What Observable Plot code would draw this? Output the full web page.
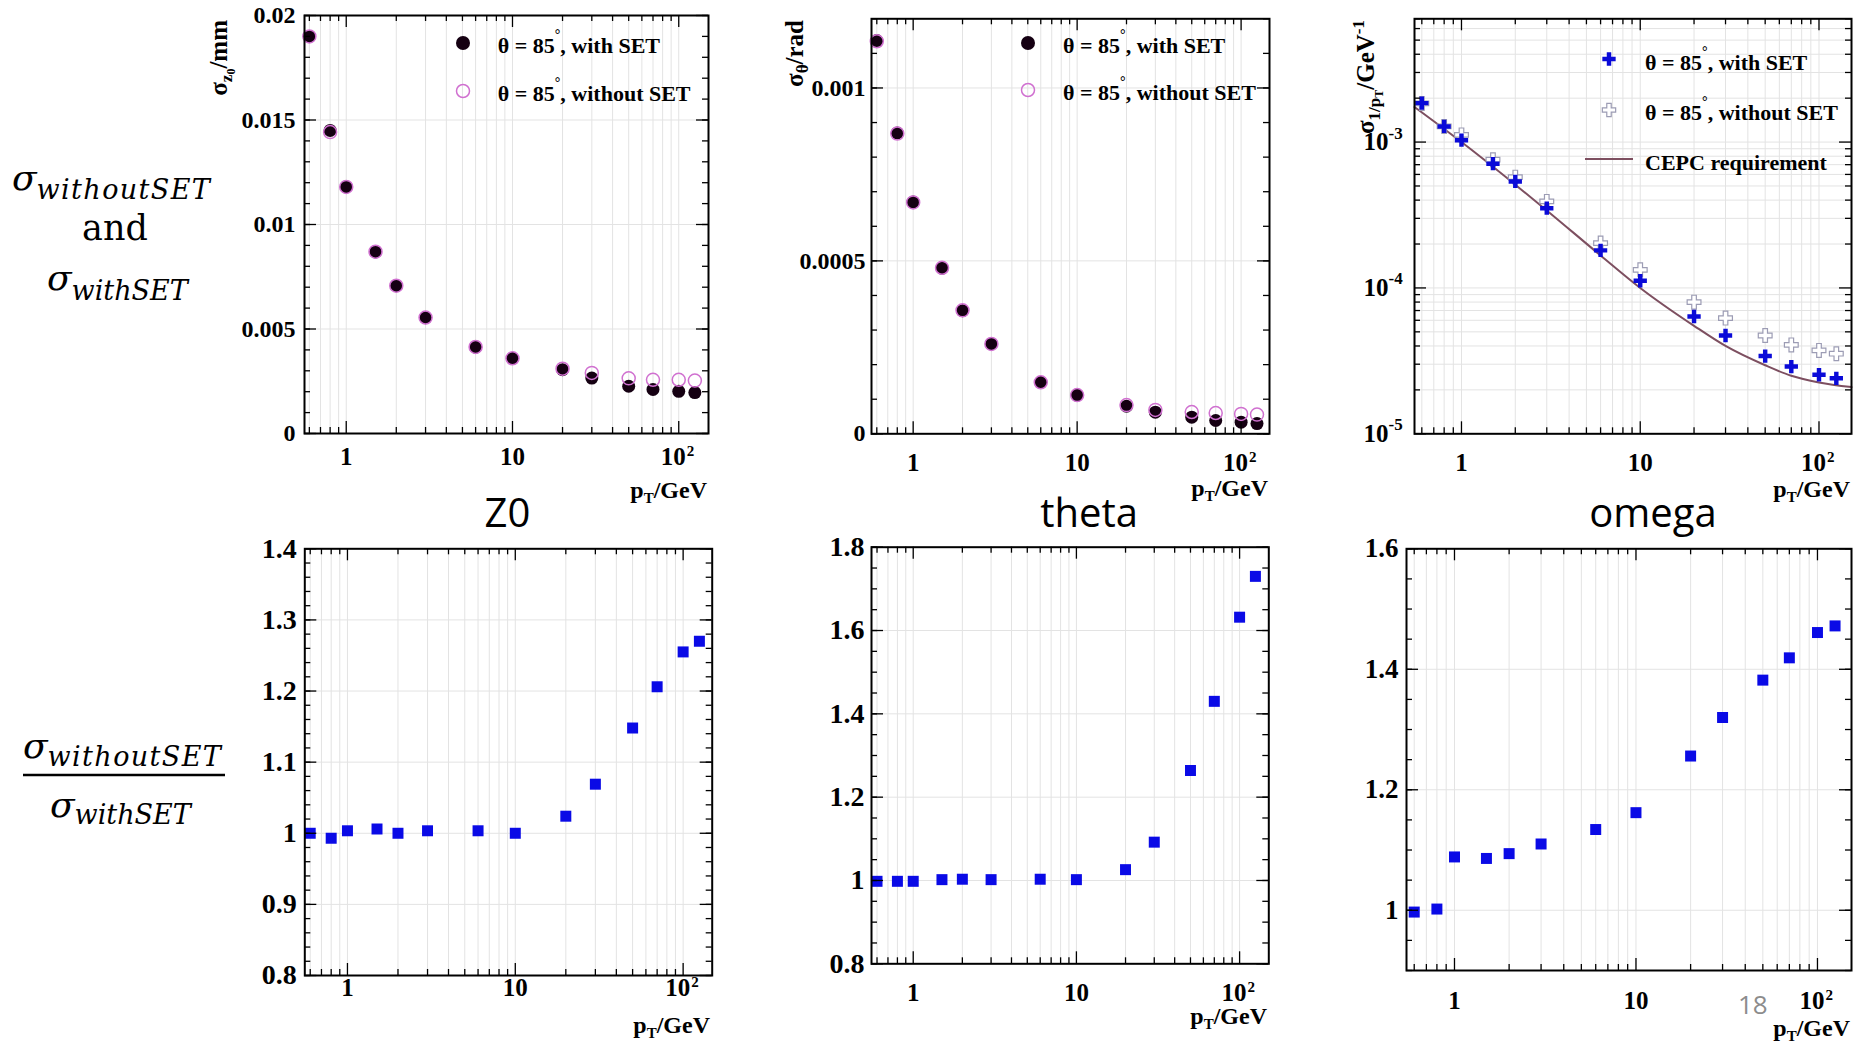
<!DOCTYPE html>
<html>
<head>
<meta charset="utf-8">
<script src="https://cdn.jsdelivr.net/npm/d3@7"></script>
<script src="https://cdn.jsdelivr.net/npm/@observablehq/plot@0.6"></script>
<style>
html,body{margin:0;padding:0;background:#fff;}
#root{position:relative;width:1868px;height:1046px;overflow:hidden;background:#fff;}
.panel{position:absolute;}
</style>
</head>
<body>
<div id="root"></div>
<script>
// ---------- data ----------
const pT = [0.6, 0.8, 1, 1.5, 2, 3, 6, 10, 20, 30, 50, 70, 100, 125];

const z0WithSET    = [0.0190, 0.0145, 0.0118, 0.00869, 0.00707, 0.00554, 0.00413, 0.00360, 0.00305, 0.00265, 0.00226, 0.00211, 0.00202, 0.00196];
const z0WithoutSET = [0.0190, 0.01442, 0.0118, 0.00870, 0.00707, 0.00555, 0.00414, 0.00360, 0.00310, 0.00290, 0.00264, 0.00257, 0.00257, 0.00253];

const thetaWithSET    = [0.001137, 0.00087, 0.00067, 0.000479, 0.000356, 0.00026, 0.000149, 0.000112, 0.0000797, 0.0000624, 0.000048, 0.0000384, 0.0000336, 0.0000295];
const thetaWithoutSET = [0.001135, 0.000868, 0.000669, 0.00048, 0.000357, 0.00026, 0.000149, 0.000112, 0.0000830, 0.0000690, 0.0000630, 0.0000600, 0.0000575, 0.0000555];

const omegaWithSET    = [1.85e-3, 1.28e-3, 1.03e-3, 7.11e-4, 5.37e-4, 3.52e-4, 1.81e-4, 1.12e-4, 6.37e-5, 4.72e-5, 3.41e-5, 2.89e-5, 2.54e-5, 2.40e-5];
const omegaWithoutSET = [1.84e-3, 1.28e-3, 1.12e-3, 7.57e-4, 5.75e-4, 3.92e-4, 2.03e-4, 1.33e-4, 7.99e-5, 6.21e-5, 4.72e-5, 4.07e-5, 3.73e-5, 3.54e-5];

const cepcPT    = [0.546, 1, 2, 3, 6, 10, 20, 30, 50, 70, 100, 152];
const cepcSigma = [1.74e-3, 1.0e-3, 5.1e-4, 3.4e-4, 1.67e-4, 1.0e-4, 5.5e-5, 4.0e-5, 2.95e-5, 2.5e-5, 2.25e-5, 2.09e-5];

const z0Ratio    = [1.000, 0.993, 1.0035, 1.006, 1.000, 1.0035, 1.0035, 1.000, 1.024, 1.069, 1.148, 1.206, 1.255, 1.270];
const thetaRatio = [0.998, 0.998, 0.998, 1.002, 1.003, 1.002, 1.003, 1.002, 1.026, 1.092, 1.264, 1.430, 1.632, 1.730];
const omegaRatio = [0.997, 1.002, 1.0885, 1.086, 1.094, 1.110, 1.134, 1.162, 1.256, 1.320, 1.382, 1.419, 1.461, 1.472];

// ---------- tick labels ----------
const xTickValues = [1, 10, 100];
const xTickText   = ["1", "10", "10"];
const xTickExp    = ["", "", "2"];
const xMinorTicks = [0.6, 0.7, 0.8, 0.9, 2, 3, 4, 5, 6, 7, 8, 9, 20, 30, 40, 50, 60, 70, 80, 90];

const z0YTicks    = [0, 0.005, 0.01, 0.015, 0.02];
const thetaYTicks = [0, 0.0005, 0.001];
const omegaYTicks = [1e-5, 1e-4, 1e-3];
const omegaYExp   = ["-5", "-4", "-3"];
const z0RatioYTicks    = [0.8, 0.9, 1, 1.1, 1.2, 1.3, 1.4];
const thetaRatioYTicks = [0.8, 1, 1.2, 1.4, 1.6, 1.8];
const omegaRatioYTicks = [1, 1.2, 1.4, 1.6];

// ---------- helpers ----------
const SERIF = "'Liberation Serif','Times New Roman',serif";
const root = document.getElementById("root");
function seq(lo, hi, step) { const out = []; const n = Math.round((hi - lo) / step); for (let i = 0; i <= n; i++) out.push(+(lo + i * step).toFixed(9)); return out; }
const logMinor = [1e-5, 1e-4, 1e-3].flatMap(d => [2,3,4,5,6,7,8,9].map(k => +(k * d).toPrecision(3))).filter(v => v <= 7e-3);

function buildPanel(c) {
  const iw = c.fx1 - c.fx0, ih = c.fy1 - c.fy0;
  const MAJ = 12, MIN = 6;
  const tk = {stroke: "#000", strokeWidth: 1.3};
  const grid = {stroke: "#e3e3e3", strokeWidth: 1};
  const txt = {fontFamily: SERIF, fontWeight: "bold", fill: "#000"};
  const xt = xTickValues.map((v, i) => ({v, t: xTickText[i], e: xTickExp[i]}));
  const marks = [
    Plot.ruleX([...xTickValues, ...xMinorTicks], {x: d => d, ...grid}),
    Plot.ruleY(c.yGrid, {y: d => d, ...grid}),
    ...c.marks,
    Plot.ruleX(xTickValues, {x: d => d, insetTop: ih - MAJ, ...tk}),
    Plot.ruleX(xTickValues, {x: d => d, insetBottom: ih - MAJ, ...tk}),
    Plot.ruleX(xMinorTicks, {x: d => d, insetTop: ih - MIN, ...tk}),
    Plot.ruleX(xMinorTicks, {x: d => d, insetBottom: ih - MIN, ...tk}),
    Plot.ruleY(c.yMajor, {y: d => d, insetRight: iw - MAJ, ...tk}),
    Plot.ruleY(c.yMajor, {y: d => d, insetLeft: iw - MAJ, ...tk}),
    Plot.ruleY(c.yMinor, {y: d => d, insetRight: iw - MIN, ...tk}),
    Plot.ruleY(c.yMinor, {y: d => d, insetLeft: iw - MIN, ...tk}),
    Plot.frame({stroke: "#000", strokeWidth: 2}),
    Plot.text(xt.filter(d => !d.e), {x: d => d.v, text: d => d.t, frameAnchor: "bottom", lineAnchor: "bottom", dy: c.xLabDy, fontSize: c.xFont, ...txt}),
    Plot.text(xt.filter(d => d.e), {x: d => d.v, text: d => d.t, frameAnchor: "bottom", lineAnchor: "bottom", textAnchor: "end", dx: 7, dy: c.xLabDy, fontSize: c.xFont, ...txt}),
    Plot.text(xt.filter(d => d.e), {x: d => d.v, text: d => d.e, frameAnchor: "bottom", lineAnchor: "bottom", textAnchor: "start", dx: 8, dy: c.xLabDy - 9, fontSize: 15, ...txt})
  ];
  if (c.yExp) {
    const yt = c.yLabels.map((v, i) => ({v, e: c.yExp[i]}));
    marks.push(Plot.text(yt, {y: d => d.v, text: () => "10", frameAnchor: "left", textAnchor: "end", lineAnchor: "middle", dx: c.yLabDx, fontSize: c.yFont, ...txt}));
    marks.push(Plot.text(yt, {y: d => d.v, text: d => d.e, frameAnchor: "left", textAnchor: "start", lineAnchor: "middle", dx: c.yLabDx, dy: -9, fontSize: 17, ...txt}));
  } else {
    marks.push(Plot.text(c.yLabels, {y: d => d, text: d => String(d), frameAnchor: "left", textAnchor: "end", lineAnchor: "middle", dx: c.yLabDx, fontSize: c.yFont, ...txt}));
  }
  const svg = Plot.plot({
    width: c.w, height: c.h,
    marginLeft: c.fx0 - c.left, marginRight: c.left + c.w - c.fx1,
    marginTop: c.fy0 - c.top, marginBottom: c.top + c.h - c.fy1,
    x: {type: "log", domain: c.xDomain, axis: null},
    y: {type: c.yType || "linear", domain: c.yDomain, axis: null},
    style: {background: "transparent", overflow: "visible"},
    marks
  });
  const div = document.createElement("div");
  div.className = "panel";
  Object.assign(div.style, {left: c.left + "px", top: c.top + "px", width: c.w + "px", height: c.h + "px"});
  div.appendChild(svg);
  root.appendChild(div);
}

const dotBlack = {r: 6.5, fill: "#150012"};
const dotPink  = {r: 6.5, fill: "none", stroke: "#d070d0", strokeWidth: 1.5};
const sq = {symbol: "square", r: 6.2, fill: "#0a0ae6"};

// ---------- top row ----------
buildPanel({left: 190, top: 0, w: 540, h: 520, fx0: 304, fx1: 708, fy0: 15, fy1: 433,
  xDomain: [0.561, 151], yDomain: [0, 0.02],
  yMajor: z0YTicks, yMinor: seq(0, 0.02, 0.001), yGrid: z0YTicks, yLabels: z0YTicks,
  xLabDy: 31, xFont: 25, yLabDx: -9, yFont: 24,
  marks: [
    Plot.dot(pT, {x: pT, y: z0WithSET, ...dotBlack}),
    Plot.dot(pT, {x: pT, y: z0WithoutSET, ...dotPink})
  ]});

buildPanel({left: 750, top: 0, w: 540, h: 520, fx0: 871, fx1: 1269, fy0: 18.3, fy1: 433.3,
  xDomain: [0.557, 149], yDomain: [0, 0.0012],
  yMajor: thetaYTicks, yMinor: seq(0, 0.0012, 0.0001), yGrid: thetaYTicks, yLabels: thetaYTicks,
  xLabDy: 37, xFont: 25, yLabDx: -6, yFont: 24,
  marks: [
    Plot.dot(pT, {x: pT, y: thetaWithSET, ...dotBlack}),
    Plot.dot(pT, {x: pT, y: thetaWithoutSET, ...dotPink})
  ]});

buildPanel({left: 1300, top: 0, w: 568, h: 520, fx0: 1414, fx1: 1851, fy0: 18.3, fy1: 433.3,
  xDomain: [0.546, 152], yDomain: [1e-5, 7e-3], yType: "log",
  yMajor: omegaYTicks, yMinor: logMinor, yGrid: [...omegaYTicks, ...logMinor], yLabels: omegaYTicks, yExp: omegaYExp,
  xLabDy: 37, xFont: 25, yLabDx: -26, yFont: 25,
  marks: [
    Plot.line(cepcPT, {x: cepcPT, y: cepcSigma, stroke: "#7d4f60", strokeWidth: 2, curve: "monotone-x"}),
    Plot.dot(pT, {x: pT, y: omegaWithoutSET, symbol: "cross", r: 5.8, fill: "#fff", stroke: "#9c9cb4", strokeWidth: 1.2}),
    Plot.dot(pT, {x: pT, y: omegaWithSET, symbol: "cross", r: 5.6, fill: "#0a0ad8"})
  ]});

// ---------- bottom row ----------
buildPanel({left: 190, top: 530, w: 540, h: 516, fx0: 304.3, fx1: 711.7, fy0: 548.3, fy1: 975,
  xDomain: [0.557, 149], yDomain: [0.8, 1.4],
  yMajor: z0RatioYTicks, yMinor: seq(0.8, 1.4, 0.02), yGrid: z0RatioYTicks, yLabels: z0RatioYTicks,
  xLabDy: 20, xFont: 25, yLabDx: -8, yFont: 28,
  marks: [Plot.dot(pT, {x: pT, y: z0Ratio, ...sq})]});

buildPanel({left: 750, top: 530, w: 540, h: 516, fx0: 871, fx1: 1268.3, fy0: 546.7, fy1: 963.3,
  xDomain: [0.555, 151], yDomain: [0.8, 1.8],
  yMajor: thetaRatioYTicks, yMinor: seq(0.8, 1.8, 0.05), yGrid: thetaRatioYTicks, yLabels: thetaRatioYTicks,
  xLabDy: 37, xFont: 25, yLabDx: -7, yFont: 28,
  marks: [Plot.dot(pT, {x: pT, y: thetaRatio, ...sq})]});

buildPanel({left: 1300, top: 530, w: 568, h: 516, fx0: 1406, fx1: 1851, fy0: 548.3, fy1: 970,
  xDomain: [0.544, 154], yDomain: [0.9, 1.6],
  yMajor: omegaRatioYTicks, yMinor: seq(0.9, 1.6, 0.05), yGrid: omegaRatioYTicks, yLabels: omegaRatioYTicks,
  xLabDy: 38, xFont: 25, yLabDx: -8, yFont: 27,
  marks: [Plot.dot(pT, {x: pT, y: omegaRatio, ...sq})]});

// ---------- annotations ----------
const ov = d3.select(root).append("svg")
  .attr("width", 1868).attr("height", 1046)
  .style("position", "absolute").style("left", "0px").style("top", "0px").style("overflow", "visible");

function rich(x, y, parts, attrs) {
  const t = ov.append("text").attr("x", x).attr("y", y);
  for (const k in attrs) t.attr(k, attrs[k]);
  for (const p of parts) {
    const s = t.append("tspan").text(p.t);
    if (p.size) s.attr("font-size", p.size);
    if (p.dy) s.attr("dy", p.dy);
    if (p.ls) s.attr("letter-spacing", p.ls);
  }
  return t;
}
const MATH = {"font-family": "'DejaVu Serif',serif", "font-style": "italic", fill: "#000"};
const BOLD = {"font-family": SERIF, "font-weight": "bold", fill: "#000"};

// left-side labels
rich(12, 190, [{t: "σ", size: 36}, {t: "withoutSET", size: 27, dy: 9, ls: 1.4}], MATH);
rich(115, 240, [{t: "and", size: 35}], {"font-family": "'DejaVu Serif',serif", "text-anchor": "middle", fill: "#000"});
rich(47, 290, [{t: "σ", size: 36}, {t: "withSET", size: 27, dy: 10}], MATH);
rich(23, 758, [{t: "σ", size: 36}, {t: "withoutSET", size: 27, dy: 8, ls: 1.4}], MATH);
ov.append("line").attr("x1", 23).attr("x2", 225).attr("y1", 775).attr("y2", 775).attr("stroke", "#000").attr("stroke-width", 2.5);
rich(50, 817, [{t: "σ", size: 36}, {t: "withSET", size: 27, dy: 7}], MATH);

// section titles
const TITLE = {"font-family": "'Open Sans','Noto Sans',sans-serif", "font-size": 40, "text-anchor": "middle", fill: "#000"};
rich(507.5, 527, [{t: "Z0"}], TITLE);
rich(1089, 527, [{t: "theta"}], TITLE);
rich(1653, 527, [{t: "omega"}], TITLE);
rich(1738, 1014, [{t: "18"}], {"font-family": "'Open Sans','Noto Sans',sans-serif", "font-size": 26, fill: "#8c8c8c"});

// y axis titles (rotated)
function yTitle(x, y, parts) {
  rich(0, 0, parts, {...BOLD, "font-size": 25, "text-anchor": "end", transform: `translate(${x},${y}) rotate(-90)`});
}
yTitle(227, 20, [{t: "σ"}, {t: "z", size: 17, dy: 5}, {t: "0", size: 12, dy: 3}, {t: "/mm", size: 25, dy: -8}]);
yTitle(803, 20, [{t: "σ"}, {t: "θ", size: 17, dy: 5}, {t: "/rad", size: 25, dy: -5}]);
yTitle(1374, 20, [{t: "σ"}, {t: "1/p", size: 17, dy: 6}, {t: "T", size: 12, dy: 3}, {t: "/GeV", size: 25, dy: -9}, {t: "-1", size: 17, dy: -10}]);

// x axis titles
function xTitle(x, y) {
  rich(x, y, [{t: "p", size: 24}, {t: "T", size: 15, dy: 5}, {t: "/GeV", size: 24, dy: -5}], {...BOLD, "text-anchor": "end"});
}
xTitle(707, 498); xTitle(1268, 496); xTitle(1850, 497);
xTitle(710, 1033); xTitle(1267, 1024); xTitle(1850, 1036);

// legends
function legText(x, y, tail) {
  rich(x, y, [{t: "θ = 85", size: 22}, {t: "°", size: 14, dy: -14}, {t: tail, size: 22, dy: 14}], BOLD);
}
ov.append("circle").attr("cx", 463).attr("cy", 43).attr("r", 7).attr("fill", "#150012");
legText(497.7, 53, ", with SET");
ov.append("circle").attr("cx", 463).attr("cy", 91).attr("r", 6.5).attr("fill", "none").attr("stroke", "#d070d0").attr("stroke-width", 1.5);
legText(497.7, 101, ", without SET");

ov.append("circle").attr("cx", 1028).attr("cy", 43).attr("r", 7).attr("fill", "#150012");
legText(1063, 53, ", with SET");
ov.append("circle").attr("cx", 1028).attr("cy", 90).attr("r", 6.5).attr("fill", "none").attr("stroke", "#d070d0").attr("stroke-width", 1.5);
legText(1063, 100, ", without SET");

const crossPath = d3.symbol(d3.symbolCross, Math.PI * 5.6 * 5.6)();
ov.append("path").attr("d", crossPath).attr("transform", "translate(1609,59)").attr("fill", "#0a0ad8");
legText(1645, 70, ", with SET");
ov.append("path").attr("d", crossPath).attr("transform", "translate(1609,110)").attr("fill", "#fff").attr("stroke", "#9c9cb4").attr("stroke-width", 1.2);
legText(1645, 120, ", without SET");
ov.append("line").attr("x1", 1585).attr("x2", 1633).attr("y1", 159).attr("y2", 159).attr("stroke", "#7d4f60").attr("stroke-width", 2);
rich(1645, 170, [{t: "CEPC requirement", size: 22}], BOLD);
</script>
</body>
</html>
